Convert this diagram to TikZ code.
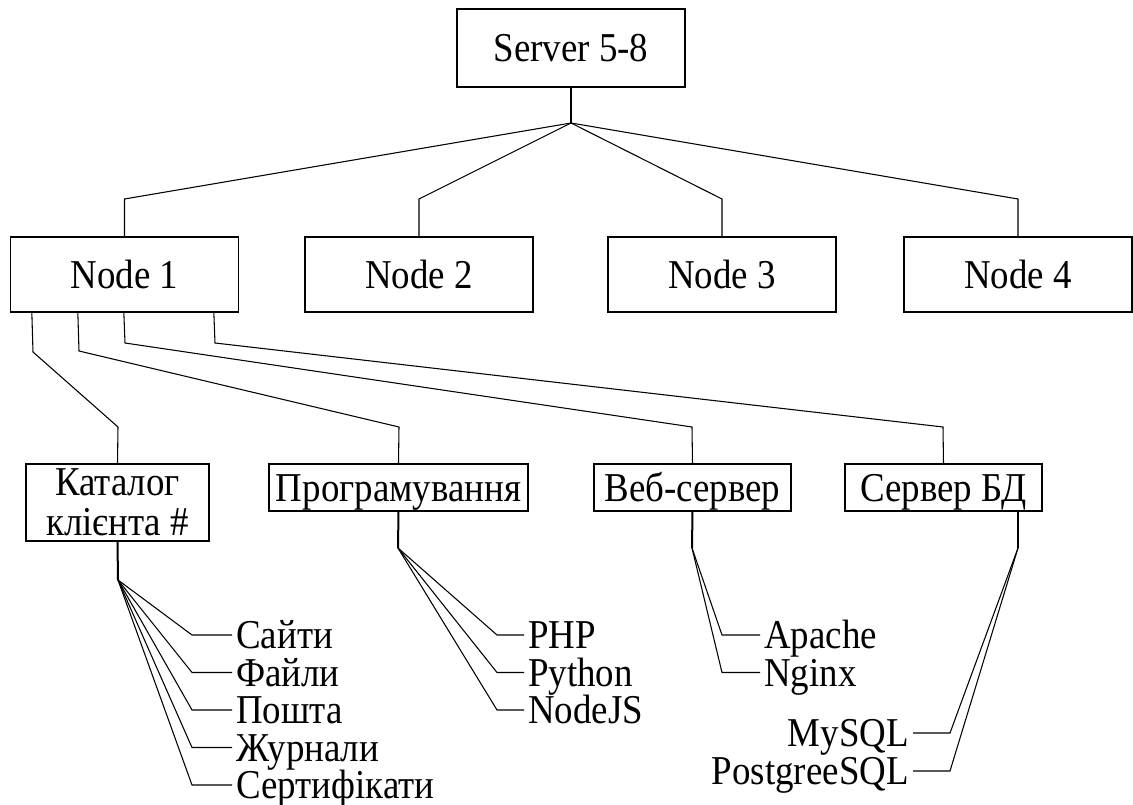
\documentclass[tikz,border=0pt]{standalone}
\usepackage{fontspec}
\setmainfont{Liberation Serif}[FakeStretch=0.9]
\begin{document}
\begin{tikzpicture}[x=0.75pt,y=-0.75pt,
  txt/.style={font=\fontsize{30.75}{30}\selectfont},
  box/.style={txt, draw, line width=1pt, inner sep=0pt, text height=20.4pt, text depth=0pt},
  lbl/.style={txt, inner ysep=0pt, inner xsep=3pt, text height=20.4pt, text depth=0pt},
  conn/.style={line width=0.8pt},
  stem/.style={line width=1.5pt}]
\useasboundingbox (0,0) rectangle (1133,805);
% top
\node[box, minimum width=228*0.75pt, minimum height=78*0.75pt] (srv) at (571,48) {Server 5-8};
\foreach \n/\x in {1/124.5,2/419,3/722,4/1018}
  \node[box, minimum width=228*0.75pt, minimum height=75*0.75pt] (n\n) at (\x,274.5) {Node \n};
\coordinate (j) at (571,123);
\coordinate (lv) at (0,199);
\draw[stem] (srv.south) -- (j);
\foreach \n in {1,2,3,4}
  \draw[conn] (j) -- (n\n.north |- lv) -- (n\n.north);
% second level
\node[txt, draw, line width=1pt, inner sep=0pt, align=center, minimum width=183*0.75pt, minimum height=77*0.75pt] (kat) at (117.5,502.5) {Каталог\\клієнта \#};
\node[box, minimum width=259*0.75pt, minimum height=47*0.75pt] (prog) at (398.5,487.5) {Програмування};
\node[box, minimum width=197*0.75pt, minimum height=47*0.75pt] (web) at (692.5,487.5) {Веб-сервер};
\node[box, minimum width=197*0.75pt, minimum height=47*0.75pt] (db) at (943.5,487.5) {Сервер БД};
\draw[conn] ([xshift=22*0.75pt]n1.south west) -- (33,352) -- (118,427) -- (kat.north);
\draw[conn] ([xshift=68*0.75pt]n1.south west) -- (79,351) -- (399,427) -- (prog.north);
\draw[conn] ([xshift=114*0.75pt]n1.south west) -- (125,343) -- (692,427) -- (web.north);
\draw[conn] ([xshift=204*0.75pt]n1.south west) -- (215,343) -- (943,427) -- (db.north);
% stems
\coordinate (kj) at (118,580);
\coordinate (pj) at (398,548);
\coordinate (wj) at (692,548);
\coordinate (dj) at (1018,548);
\draw[stem] (kat.south) -- (kj);
\draw[stem] (prog.south) -- (pj);
\draw[stem] (web.south) -- (wj);
\draw[stem] ([xshift=74.5*0.75pt]db.south) -- (dj);
% leaves
\foreach \name/\t/\y in {k1/Сайти/635,k2/Файли/672.5,k3/Пошта/710,k4/Журнали/747.5,k5/Сертифікати/785}{
  \node[lbl, anchor=west] (\name) at (232,\y) {\t};
  \draw[conn] (kj) -- (192,\y) -- (\name.west);
}
\foreach \name/\t/\y in {p1/PHP/635,p2/Python/672.5,p3/NodeJS/710}{
  \node[lbl, anchor=west] (\name) at (524,\y) {\t};
  \draw[conn] (pj) -- (497,\y) -- (\name.west);
}
\foreach \name/\t/\y in {w1/Apache/635,w2/Nginx/672.5}{
  \node[lbl, anchor=west] (\name) at (760,\y) {\t};
  \draw[conn] (wj) -- (722,\y) -- (\name.west);
}
\foreach \name/\t/\y in {d1/MySQL/733,d2/PostgreeSQL/771}{
  \node[lbl, anchor=east] (\name) at (913,\y) {\t};
  \draw[conn] (dj) -- (950,\y) -- (\name.east);
}
\end{tikzpicture}
\end{document}
